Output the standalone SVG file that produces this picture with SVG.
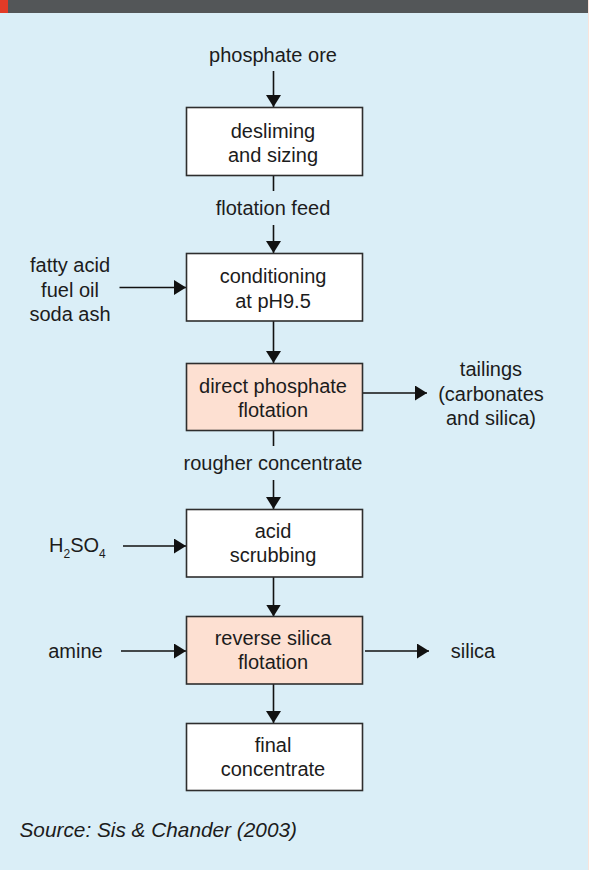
<svg xmlns="http://www.w3.org/2000/svg" width="589" height="870" viewBox="0 0 589 870">
  <style>
    .t { font-family: "Liberation Sans", Arial, sans-serif; font-size: 20px; fill: #1c1c1c; text-anchor: middle; }
    .src { font-family: "Liberation Sans", Arial, sans-serif; font-size: 20.8px; font-style: italic; fill: #1c1c1c; }
    .box { stroke: #2e2e2e; stroke-width: 1.6; }
    .plain { fill: #ffffff; }
    .flot { fill: #fde0d2; }
    .wire { stroke: #111; stroke-width: 1.6; fill: none; }
  </style>
  <defs>
    <marker id="head" viewBox="0 0 12 15" markerWidth="12" markerHeight="15" refX="12" refY="7.5" orient="auto" markerUnits="userSpaceOnUse">
      <path d="M0,0 L12,7.5 L0,15 z" fill="#111"/>
    </marker>
  </defs>

  <!-- panel background and header strip -->
  <rect x="0" y="0" width="589" height="870" fill="#fbe3da"/>
  <rect x="0" y="0" width="588" height="870" fill="#daeef7"/>
  <rect x="0" y="0" width="588" height="13" fill="#535658"/>
  <rect x="0" y="0" width="8" height="13" fill="#e23b27"/>

  <!-- connectors -->
  <g id="connectors">
    <line class="wire" x1="273.5" y1="71" x2="273.5" y2="107" marker-end="url(#head)"/>
    <line class="wire" x1="273.5" y1="175.5" x2="273.5" y2="191"/>
    <line class="wire" x1="273.5" y1="225" x2="273.5" y2="253" marker-end="url(#head)"/>
    <line class="wire" x1="119.5" y1="287.5" x2="186" y2="287.5" marker-end="url(#head)"/>
    <line class="wire" x1="273.5" y1="321" x2="273.5" y2="363" marker-end="url(#head)"/>
    <line class="wire" x1="362" y1="393" x2="427" y2="393" marker-end="url(#head)"/>
    <line class="wire" x1="273.5" y1="430.5" x2="273.5" y2="446"/>
    <line class="wire" x1="273.5" y1="480" x2="273.5" y2="509" marker-end="url(#head)"/>
    <line class="wire" x1="123" y1="546" x2="186" y2="546" marker-end="url(#head)"/>
    <line class="wire" x1="273.5" y1="577" x2="273.5" y2="616.5" marker-end="url(#head)"/>
    <line class="wire" x1="121" y1="651" x2="186" y2="651" marker-end="url(#head)"/>
    <line class="wire" x1="365" y1="651" x2="429" y2="651" marker-end="url(#head)"/>
    <line class="wire" x1="273.5" y1="684" x2="273.5" y2="723" marker-end="url(#head)"/>
  </g>

  <!-- stream labels -->
  <g id="feed-labels">
    <text class="t" x="273" y="62">phosphate ore</text>
    <text class="t" x="273" y="215">flotation feed</text>
    <text class="t" x="273" y="470">rougher concentrate</text>
    <text class="t" x="70" y="272">fatty acid</text>
    <text class="t" x="70" y="297">fuel oil</text>
    <text class="t" x="70" y="321">soda ash</text>
    <text class="t" x="491" y="376">tailings</text>
    <text class="t" x="491" y="401">(carbonates</text>
    <text class="t" x="491" y="425">and silica)</text>
    <text class="t" x="49" y="552" style="text-anchor:start">H<tspan font-size="12" dy="6">2</tspan><tspan dy="-6">SO</tspan><tspan font-size="12" dy="6">4</tspan></text>
    <text class="t" x="75.5" y="658">amine</text>
    <text class="t" x="473" y="658">silica</text>
  </g>

  <!-- process steps -->
  <g id="desliming">
    <rect class="box plain" x="186.5" y="107.5" width="176" height="68"/>
    <text class="t" x="273" y="138">desliming</text>
    <text class="t" x="273" y="162">and sizing</text>
  </g>
  <g id="conditioning">
    <rect class="box plain" x="186.5" y="253.5" width="176" height="67.5"/>
    <text class="t" x="273" y="283">conditioning</text>
    <text class="t" x="273" y="308">at pH9.5</text>
  </g>
  <g id="direct-flotation">
    <rect class="box flot" x="186.5" y="363.5" width="176" height="67"/>
    <text class="t" x="273" y="393">direct phosphate</text>
    <text class="t" x="273" y="417">flotation</text>
  </g>
  <g id="acid-scrubbing">
    <rect class="box plain" x="186.5" y="509.5" width="176" height="67.5"/>
    <text class="t" x="273" y="538">acid</text>
    <text class="t" x="273" y="562">scrubbing</text>
  </g>
  <g id="reverse-flotation">
    <rect class="box flot" x="186.5" y="616.5" width="176" height="67.5"/>
    <text class="t" x="273" y="645">reverse silica</text>
    <text class="t" x="273" y="669">flotation</text>
  </g>
  <g id="final-concentrate">
    <rect class="box plain" x="186.5" y="723.5" width="176" height="67"/>
    <text class="t" x="273" y="752">final</text>
    <text class="t" x="273" y="776">concentrate</text>
  </g>

  <text class="src" x="19.5" y="837">Source: Sis &amp; Chander (2003)</text>
</svg>
